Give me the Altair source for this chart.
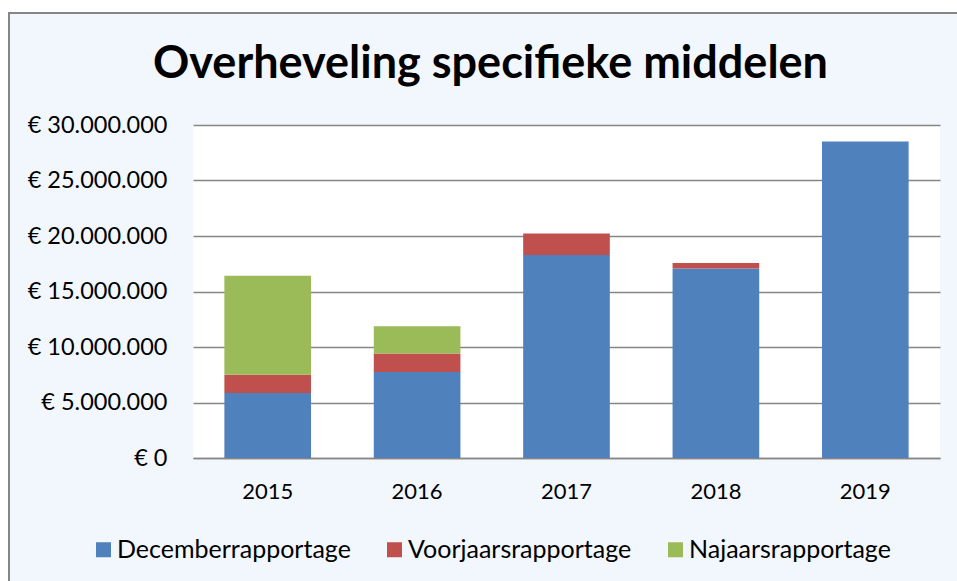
import altair as alt
import pandas as pd

years = ["2015", "2016", "2017", "2018", "2019"]
series = ["Decemberrapportage", "Voorjaarsrapportage", "Najaarsrapportage"]
december = [5850000, 7750000, 18290000, 17080000, 28520000]
voorjaar = [1650000, 1670000, 1940000, 490000, 0]
najaar = [8920000, 2440000, 0, 0, 0]
colors = ["#4F81BD", "#C0504D", "#9BBB59"]
y_ticks = [0, 5000000, 10000000, 15000000, 20000000, 25000000, 30000000]

rows = []
for i, y in enumerate(years):
    for k, (name, vals) in enumerate(zip(series, [december, voorjaar, najaar])):
        rows.append({"jaar": y, "reeks": name, "bedrag": vals[i], "volg": k})
df = pd.DataFrame(rows)

FONT = "Lato"
W, H = 747, 333

bars = alt.Chart(df).mark_bar().encode(
    x=alt.X("jaar:N", sort=years,
            scale=alt.Scale(paddingInner=0.42, paddingOuter=0.21),
            axis=alt.Axis(title=None, labelAngle=0, ticks=False, labelFontSize=22,
                          labelFont=FONT, labelColor="black", labelPadding=23,
                          domainColor="#868686", domainWidth=1.5, grid=False)),
    y=alt.Y("bedrag:Q", stack="zero",
            scale=alt.Scale(domain=[0, 30000000], nice=False),
            axis=alt.Axis(title=None, values=y_ticks, ticks=False, domain=False,
                          labelExpr="'€ ' + join(split(format(datum.value, ',d'), ','), '.')",
                          labelFontSize=23.5, labelFont=FONT, labelColor="black",
                          labelPadding=26, gridColor="#868686", gridWidth=1.5)),
    color=alt.Color("reeks:N", scale=alt.Scale(domain=series, range=colors),
                    legend=alt.Legend(title=None, orient="none", direction="horizontal",
                                      legendX=-102, legendY=412,
                                      symbolType="square", symbolSize=225,
                                      symbolStrokeWidth=0, labelFontSize=25,
                                      labelFont=FONT, labelColor="black", labelLimit=0,
                                      columnPadding=31, labelOffset=1,
                                      symbolOpacity=1)),
    order=alt.Order("volg:Q"),
)

frame_df = pd.DataFrame({"k": [0]})
white_left = alt.Chart(frame_df).mark_rect(color="white").encode(
    x=alt.value(-193), x2=alt.value(-185), y=alt.value(-125), y2=alt.value(H + 123))
white_top = alt.Chart(frame_df).mark_rect(color="white").encode(
    x=alt.value(-193), x2=alt.value(W + 17), y=alt.value(-125), y2=alt.value(-113))
border_top = alt.Chart(frame_df).mark_rule(color="#868686", strokeWidth=2).encode(
    x=alt.value(-185), x2=alt.value(W + 17), y=alt.value(-112))
border_left = alt.Chart(frame_df).mark_rule(color="#868686", strokeWidth=2).encode(
    x=alt.value(-184), y=alt.value(-113), y2=alt.value(H + 123))

chart = alt.layer(bars, white_left, white_top, border_top, border_left).properties(
    width=W, height=H,
    title=alt.TitleParams("Overheveling specifieke middelen", font=FONT, fontSize=45,
                          fontWeight="bold", color="black", anchor="middle",
                          baseline="alphabetic", dx=-76, dy=123, offset=0),
    background="#F2F6FD",
    padding={"left": 193, "top": 125, "right": 17, "bottom": 123},
    autosize=alt.AutoSizeParams(type="none"),
).configure_view(fill="white", stroke=None)

chart.save("out.html", embed_options={"renderer": "svg", "actions": False})
